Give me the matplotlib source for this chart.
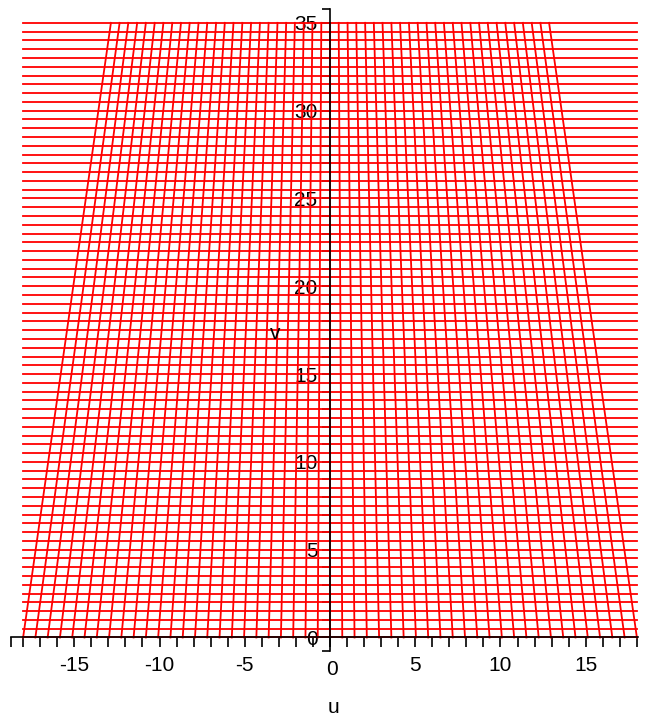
import matplotlib
matplotlib.use("Agg")
import matplotlib.pyplot as plt
from matplotlib.ticker import FuncFormatter

# Mesh: each "vertical" curve runs from u_bottom (v=0) to u_top (v=35)
u_bottom = [-18.0, -17.28, -16.56, -15.84, -15.12, -14.4, -13.68, -12.96, -12.24,
            -11.52, -10.8, -10.08, -9.36, -8.64, -7.92, -7.2, -6.48, -5.76, -5.04,
            -4.32, -3.6, -2.88, -2.16, -1.44, -0.72, 0.0, 0.72, 1.44, 2.16, 2.88,
            3.6, 4.32, 5.04, 5.76, 6.48, 7.2, 7.92, 8.64, 9.36, 10.08, 10.8, 11.52,
            12.24, 12.96, 13.68, 14.4, 15.12, 15.84, 16.56, 17.28, 18.0]
u_top = [-12.85, -12.34, -11.83, -11.31, -10.8, -10.28, -9.77, -9.25, -8.74,
         -8.23, -7.71, -7.2, -6.68, -6.17, -5.66, -5.14, -4.63, -4.11, -3.6,
         -3.08, -2.57, -2.06, -1.54, -1.03, -0.51, 0.0, 0.51, 1.03, 1.54, 2.06,
         2.57, 3.08, 3.6, 4.11, 4.63, 5.14, 5.66, 6.17, 6.68, 7.2, 7.71, 8.23,
         8.74, 9.25, 9.77, 10.28, 10.8, 11.31, 11.83, 12.34, 12.85]
v_span = [0.0, 35.0]

# Horizontal lines v = const, spanning the whole u range
v_levels = [0.0, 0.5, 1.0, 1.5, 2.0, 2.5, 3.0, 3.5, 4.0, 4.5, 5.0, 5.5, 6.0, 6.5,
            7.0, 7.5, 8.0, 8.5, 9.0, 9.5, 10.0, 10.5, 11.0, 11.5, 12.0, 12.5,
            13.0, 13.5, 14.0, 14.5, 15.0, 15.5, 16.0, 16.5, 17.0, 17.5, 18.0,
            18.5, 19.0, 19.5, 20.0, 20.5, 21.0, 21.5, 22.0, 22.5, 23.0, 23.5,
            24.0, 24.5, 25.0, 25.5, 26.0, 26.5, 27.0, 27.5, 28.0, 28.5, 29.0,
            29.5, 30.0, 30.5, 31.0, 31.5, 32.0, 32.5, 33.0, 33.5, 34.0, 34.5, 35.0]
u_span = [-18.0, 18.0]

x_ticks = list(range(-18, 19))
y_ticks = list(range(0, 36))

RED = "#ff0000"
FONT = "Liberation Sans"
FS = 15

fig = plt.figure(figsize=(6.49, 7.18), dpi=100)
ax = fig.add_axes([0, 0, 1, 1])
ax.patch.set_alpha(0)

for ub, ut in zip(u_bottom, u_top):
    ax.plot([ub, ut], v_span, color=RED, lw=1.3, zorder=2)
for v in v_levels:
    ax.plot(u_span, [v, v], color=RED, lw=1.3, zorder=2)

ax.set_xlim(-19.355, 18.71)
ax.set_ylim(-4.584, 36.30)

# Maple-style axes through the origin
for side in ["top", "right"]:
    ax.spines[side].set_visible(False)
ax.spines["left"].set_position(("data", 0))
ax.spines["bottom"].set_position(("data", 0))
ax.spines["left"].set_bounds(-0.75, 35.8)
ax.spines["bottom"].set_bounds(-18.7, 18.05)
for side in ["left", "bottom"]:
    ax.spines[side].set_linewidth(1.2)
    ax.spines[side].set_zorder(3)

ax.set_xticks([-18.7] + x_ticks)
ax.set_yticks([-0.75] + y_ticks + [35.8])
lab5 = FuncFormatter(lambda t, p: f"{int(t)}" if abs(t - round(t)) < 1e-6 and int(round(t)) % 5 == 0 else "")
ax.xaxis.set_major_formatter(FuncFormatter(
    lambda t, p: "" if abs(t) < 1e-6 else lab5(t, p)))
ax.yaxis.set_major_formatter(lab5)
ax.tick_params(axis="x", direction="out", length=7.5, width=1.2, pad=6,
               labelsize=FS, colors="black")
ax.tick_params(axis="y", direction="out", length=6, width=1.2, pad=3,
               labelsize=FS, colors="black")
for lbl in ax.get_xticklabels() + ax.get_yticklabels():
    lbl.set_family(FONT)

# the "0" under the origin is a separate x label, set slightly right of the axis
ax.text(0.12, -1.85, "0", ha="center", va="center", fontsize=FS, family=FONT)
ax.text(0.2, -4.0, "u", ha="center", va="center", fontsize=FS, family=FONT)
ax.text(-3.2, 17.3, "v", ha="center", va="center", fontsize=FS, family=FONT)

fig.savefig("out.png", dpi=100)
